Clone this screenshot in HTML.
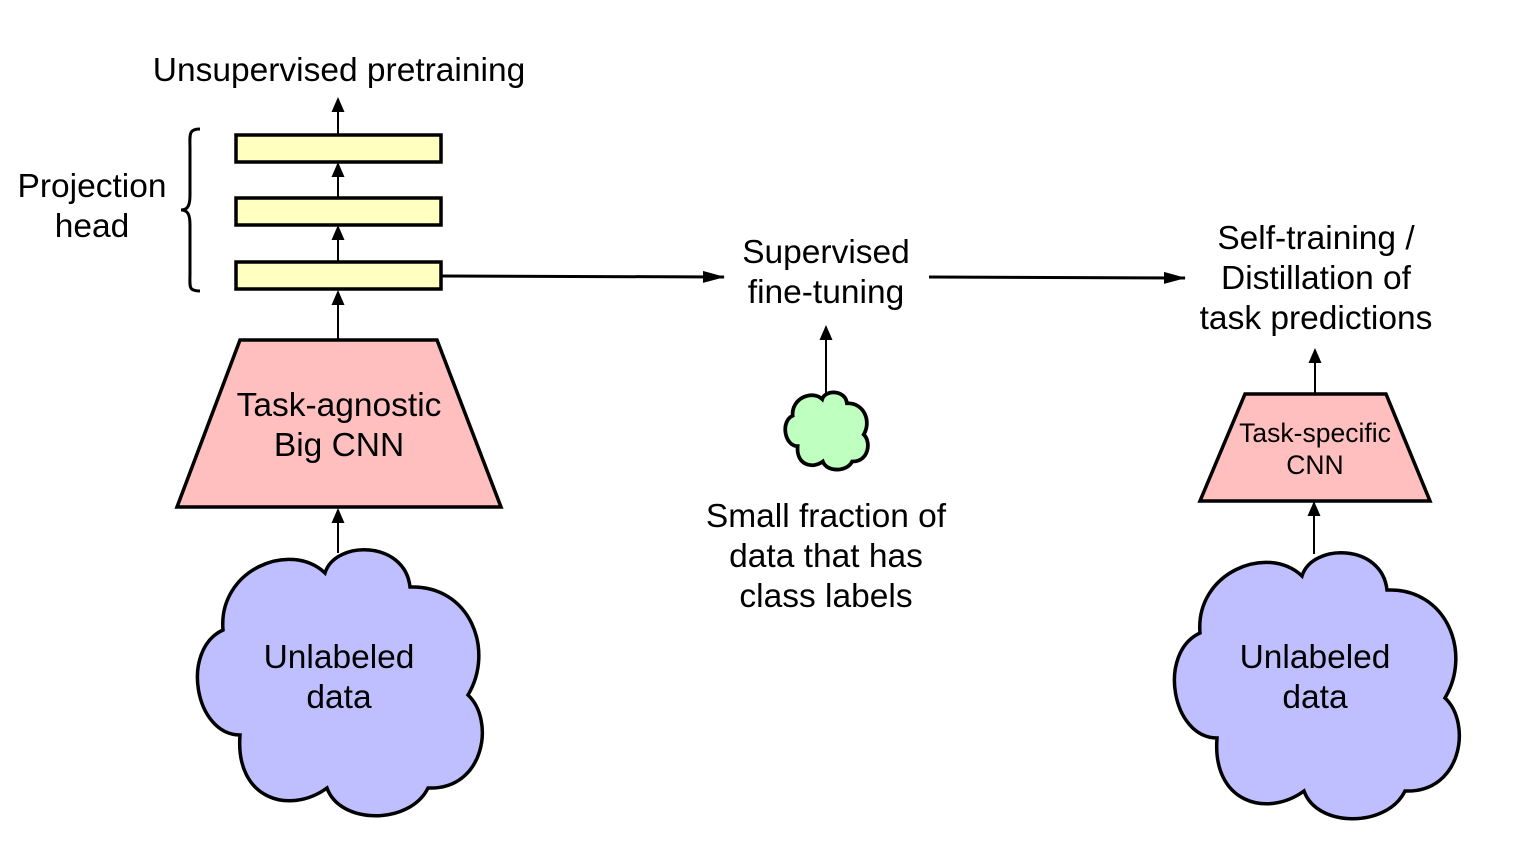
<!DOCTYPE html>
<html><head><meta charset="utf-8"><style>
html,body{margin:0;padding:0;background:#fff;}
svg{display:block;}
text{font-family:"Liberation Sans",sans-serif;fill:#000;}
</style></head><body>
<svg width="1521" height="851" viewBox="0 0 1521 851" xmlns="http://www.w3.org/2000/svg">
<defs>
<marker id="ah" markerWidth="15" markerHeight="13" refX="13" refY="6.5" orient="auto" markerUnits="userSpaceOnUse" viewBox="0 0 15 13">
<path d="M0,0 L15,6.5 L0,13 Z" fill="#000"/>
</marker>
<marker id="ahb" markerWidth="22" markerHeight="12" refX="21" refY="6" orient="auto" markerUnits="userSpaceOnUse" viewBox="0 0 22 12">
<path d="M0,0 L22,6 L0,12 Z" fill="#000"/>
</marker>
<path id="cloud" d="M223,630 C218,570 290,540 325,573 C335,540 405,540 410,587 C470,585 495,650 468,695 C495,720 485,790 428,788 C410,825 340,825 327,788 C290,815 235,800 240,735 C195,735 180,650 223,630 Z"/>
</defs>

<use href="#cloud" fill="#bfbfff" stroke="#000" stroke-width="3.5"/>
<use href="#cloud" transform="translate(977,3)" fill="#bfbfff" stroke="#000" stroke-width="3.5"/>
<g transform="translate(728,233) scale(0.29)">
<use href="#cloud" fill="#bfffbf" stroke="#000" stroke-width="13"/>
</g>

<polygon points="240,340 437,340 501,507 177,507" fill="#ffbfbf" stroke="#000" stroke-width="3.5"/>
<polygon points="1245,394 1386,394 1430,501 1200,501" fill="#ffbfbf" stroke="#000" stroke-width="3.5"/>

<rect x="236" y="135" width="205" height="27" fill="#ffffbf" stroke="#000" stroke-width="3.5"/>
<rect x="236" y="198" width="205" height="27" fill="#ffffbf" stroke="#000" stroke-width="3.5"/>
<rect x="236" y="262" width="205" height="27" fill="#ffffbf" stroke="#000" stroke-width="3.5"/>

<path d="M200,129 C188,129 190,135 190,150 L190,195 C190,205 188,210 181,210 C188,210 190,215 190,225 L190,272 C190,287 188,291 200,291" fill="none" stroke="#000" stroke-width="3"/>

<g stroke="#000" stroke-width="2" fill="none">
<line x1="338" y1="340" x2="338" y2="292" marker-end="url(#ah)"/>
<line x1="338" y1="262" x2="338" y2="227" marker-end="url(#ah)"/>
<line x1="338" y1="198" x2="338" y2="164" marker-end="url(#ah)"/>
<line x1="338" y1="135" x2="338" y2="99" marker-end="url(#ah)"/>
<line x1="338" y1="553" x2="338" y2="510" marker-end="url(#ah)"/>
<line x1="826" y1="393" x2="826" y2="327" marker-end="url(#ah)"/>
<line x1="1315" y1="394" x2="1315" y2="350" marker-end="url(#ah)"/>
<line x1="1314" y1="554" x2="1314" y2="503" marker-end="url(#ah)"/>
</g>
<g stroke="#000" stroke-width="3" fill="none">
<line x1="441" y1="276" x2="724" y2="277" marker-end="url(#ahb)"/>
<line x1="929" y1="277" x2="1185" y2="278" marker-end="url(#ahb)"/>
</g>

<g font-size="33.5" text-anchor="middle">
<text x="339" y="81">Unsupervised pretraining</text>
<text x="92" y="197">Projection</text>
<text x="92" y="237">head</text>
<text x="339" y="416">Task-agnostic</text>
<text x="339" y="456">Big CNN</text>
<text x="339" y="668">Unlabeled</text>
<text x="339" y="708">data</text>
<text x="826" y="263">Supervised</text>
<text x="826" y="303">fine-tuning</text>
<text x="826" y="527">Small fraction of</text>
<text x="826" y="567">data that has</text>
<text x="826" y="607">class labels</text>
<text x="1316" y="249">Self-training /</text>
<text x="1316" y="289">Distillation of</text>
<text x="1316" y="329">task predictions</text>
<text x="1315" y="668">Unlabeled</text>
<text x="1315" y="708">data</text>
</g>
<g font-size="26.5" text-anchor="middle">
<text x="1315" y="442">Task-specific</text>
<text x="1315" y="474">CNN</text>
</g>
</svg>
</body></html>
